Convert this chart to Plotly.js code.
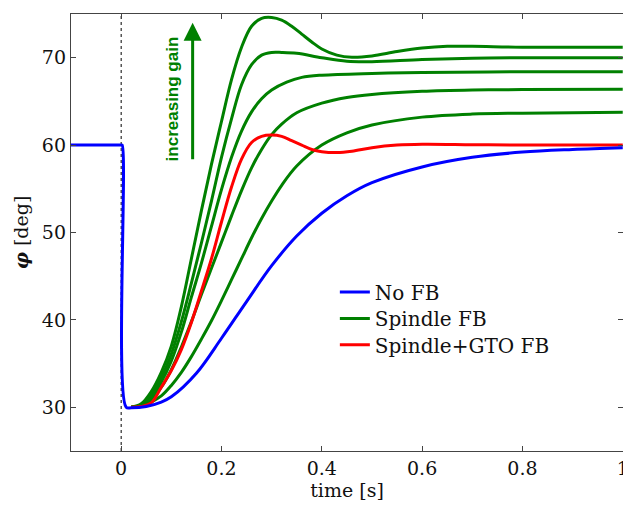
<!DOCTYPE html>
<html>
<head>
<meta charset="utf-8">
<script src="https://cdn.plot.ly/plotly-3.0.1.min.js"></script>
<style>html,body{margin:0;padding:0;background:#fff;}#plot{width:623px;height:507px;}</style>
</head>
<body>
<div id="plot"></div>
<script>
// No FB (blue)
var tBlue = [-0.1, 0.0, 0.002, 0.01, 0.02, 0.05, 0.08, 0.1, 0.15, 0.2, 0.25, 0.3, 0.35, 0.4, 0.45, 0.5, 0.6, 0.7, 0.8, 0.9, 1.0];
var yBlue = [60, 60, 60, 30, 29.95, 30.1, 30.6, 31.2, 33.9, 37.9, 42.1, 46.2, 49.6, 52.2, 54.2, 55.7, 57.5, 58.6, 59.2, 59.5, 59.7];

// Spindle+GTO FB (red)
var tRed = [0.02, 0.04, 0.06, 0.08, 0.1, 0.12, 0.14, 0.16, 0.18, 0.2, 0.22, 0.24, 0.26, 0.28, 0.3, 0.32, 0.34, 0.36, 0.38, 0.4, 0.43, 0.46, 0.5, 0.55, 0.6, 0.7, 0.8, 1.0];
var yRed = [30, 30.1, 30.5, 32.3, 34.2, 36.6, 39.7, 43.3, 47.0, 51.2, 55.2, 58.4, 60.3, 61.0, 61.15, 61.0, 60.5, 60.0, 59.5, 59.25, 59.15, 59.3, 59.7, 60.0, 60.1, 60.05, 60.0, 60.0];

// Spindle FB (green), five gains, highest first
var tG1 = [0.02, 0.04, 0.06, 0.08, 0.1, 0.12, 0.14, 0.16, 0.18, 0.2, 0.22, 0.24, 0.26, 0.28, 0.3, 0.32, 0.34, 0.36, 0.38, 0.4, 0.43, 0.46, 0.5, 0.55, 0.6, 0.65, 0.7, 0.8, 1.0];
var yG1 = [30, 30.4, 31.8, 34.0, 37.0, 41.5, 47.0, 52.5, 57.8, 62.7, 67.5, 71.2, 73.6, 74.5, 74.6, 74.3, 73.6, 72.7, 71.8, 71.0, 70.3, 70.05, 70.2, 70.7, 71.1, 71.3, 71.3, 71.2, 71.2];

var tG2 = [0.02, 0.04, 0.06, 0.08, 0.1, 0.12, 0.14, 0.16, 0.18, 0.2, 0.22, 0.24, 0.26, 0.28, 0.3, 0.32, 0.35, 0.4, 0.45, 0.5, 0.6, 0.7, 0.8, 1.0];
var yG2 = [30, 30.3, 31.5, 33.4, 36.1, 39.8, 44.2, 48.8, 53.6, 58.6, 63.0, 66.9, 69.2, 70.3, 70.6, 70.6, 70.5, 70.0, 69.6, 69.55, 69.8, 69.95, 70.0, 70.0];

var tG3 = [0.02, 0.04, 0.06, 0.08, 0.1, 0.12, 0.14, 0.16, 0.18, 0.2, 0.22, 0.24, 0.26, 0.28, 0.3, 0.33, 0.36, 0.4, 0.5, 0.6, 0.8, 1.0];
var yG3 = [30, 30.25, 31.2, 32.9, 35.3, 38.6, 42.6, 46.5, 50.7, 54.9, 58.6, 61.6, 63.8, 65.3, 66.3, 67.2, 67.75, 68.0, 68.2, 68.3, 68.4, 68.4];

var tG4 = [0.02, 0.04, 0.06, 0.08, 0.1, 0.12, 0.14, 0.16, 0.18, 0.2, 0.22, 0.24, 0.26, 0.28, 0.3, 0.32, 0.35, 0.4, 0.45, 0.5, 0.6, 0.7, 0.8, 1.0];
var yG4 = [30, 30.2, 30.9, 32.3, 34.3, 36.9, 39.8, 42.9, 45.9, 48.9, 51.9, 54.8, 57.4, 59.5, 61.2, 62.4, 63.7, 64.8, 65.45, 65.8, 66.15, 66.3, 66.35, 66.4];

var tG5 = [0.02, 0.04, 0.06, 0.08, 0.1, 0.12, 0.14, 0.16, 0.18, 0.2, 0.22, 0.24, 0.26, 0.28, 0.3, 0.32, 0.35, 0.4, 0.45, 0.5, 0.6, 0.7, 0.8, 1.0];
var yG5 = [30, 30.15, 30.6, 31.3, 32.5, 34.0, 35.8, 37.8, 39.9, 42.2, 44.6, 47.0, 49.4, 51.6, 53.6, 55.4, 57.6, 60.0, 61.4, 62.3, 63.2, 63.55, 63.65, 63.75];

var xTicks = [0, 0.2, 0.4, 0.6, 0.8, 1];
var yTicks = [30, 40, 50, 60, 70];

var SERIF = 'DejaVu Serif';
var GREEN = 'rgb(0,128,0)';
var greens = [[tG1, yG1], [tG2, yG2], [tG3, yG3], [tG4, yG4], [tG5, yG5]];
var traces = [];
greens.forEach(function (g, i) {
  traces.push({
    x: g[0], y: g[1], type: 'scatter', mode: 'lines',
    line: {color: GREEN, width: 3, shape: 'spline', smoothing: 1},
    name: 'Spindle FB', legend: 'legend2', showlegend: i === 0
  });
});
traces.push({
  x: tRed, y: yRed, type: 'scatter', mode: 'lines',
  line: {color: 'rgb(255,0,0)', width: 3, shape: 'spline', smoothing: 1},
  name: 'Spindle+GTO FB', legend: 'legend3'
});
traces.push({
  x: tBlue, y: yBlue, type: 'scatter', mode: 'lines',
  line: {color: 'rgb(0,0,255)', width: 3, shape: 'spline', smoothing: 1},
  name: 'No FB', legend: 'legend'
});

var axisCommon = {
  showgrid: false, zeroline: false, showline: true, linecolor: '#444', linewidth: 1.2,
  mirror: 'ticks', ticks: 'inside', ticklen: 5, tickcolor: '#444', tickwidth: 1.2,
  ticklabeloverflow: 'allow',
  tickfont: {family: SERIF, size: 19, color: '#111'}
};

function legendAt(yc) {
  return {
    x: 0.478, y: yc, xanchor: 'left', yanchor: 'middle',
    bgcolor: 'rgba(0,0,0,0)', borderwidth: 0,
    font: {family: SERIF, size: 20, color: '#111'}
  };
}

var layout = {
  width: 623, height: 507,
  margin: {l: 71, r: 0, t: 14, b: 56},
  paper_bgcolor: '#fff', plot_bgcolor: '#fff',
  showlegend: true,
  legend: legendAt(0.364),
  legend2: legendAt(0.303),
  legend3: legendAt(0.243),
  xaxis: Object.assign({}, axisCommon, {
    range: [-0.1, 1.0005], tickvals: xTicks, ticktext: xTicks.map(String),
    title: {text: 'time [s]', font: {family: SERIF, size: 19, color: '#111'}, standoff: 2}
  }),
  yaxis: Object.assign({}, axisCommon, {
    range: [25, 75], tickvals: yTicks, ticktext: yTicks.map(String),
    title: {text: '<b><i>φ</i></b> [deg]', font: {family: SERIF, size: 19, color: '#111'}, standoff: 8}
  }),
  shapes: [{
    type: 'line', xref: 'x', yref: 'paper', x0: 0, x1: 0, y0: 0, y1: 1,
    line: {color: '#000', width: 1, dash: 'dot'}, layer: 'below'
  }],
  annotations: [
    {
      x: 0.1425, y: 74.0, xref: 'x', yref: 'y',
      ax: 0.1425, ay: 58.2, axref: 'x', ayref: 'y',
      showarrow: true, arrowhead: 2, arrowsize: 1.2, arrowwidth: 3, arrowcolor: GREEN, text: ''
    },
    {
      x: 0.1026, y: 65.3, xref: 'x', yref: 'y', showarrow: false,
      text: '<b>increasing gain</b>', textangle: -90,
      font: {family: 'Liberation Sans', size: 17, color: GREEN}
    }
  ]
};

Plotly.newPlot('plot', traces, layout, {displayModeBar: false, staticPlot: true});
</script>
</body>
</html>
